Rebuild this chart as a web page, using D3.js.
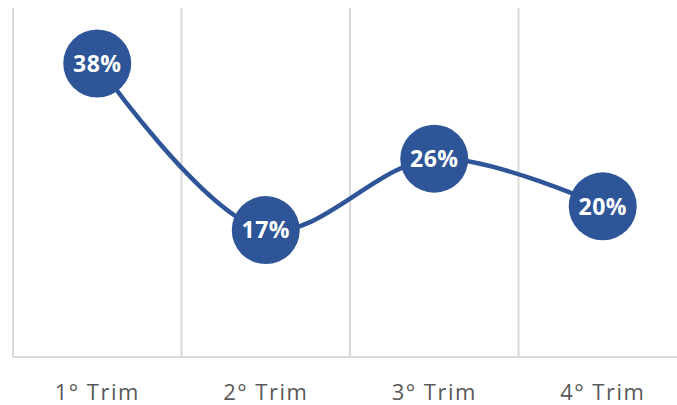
<!DOCTYPE html>
<html><head><meta charset="utf-8">
<script src="https://cdn.jsdelivr.net/npm/d3@7"></script>
<style>body{margin:0;background:#fff;overflow:hidden}</style>
</head><body>
<svg id="c" width="677" height="405"></svg>
<script>
const categories = ["1° Trim", "2° Trim", "3° Trim", "4° Trim"];
const values = [38, 17, 26, 20];
const valueLabels = ["38%", "17%", "26%", "20%"];

const svg = d3.select("#c");
const x = d3.scaleBand().domain(categories).range([13, 687]);
const y = d3.scaleLinear().domain([1, 45]).range([357, 8]);
const blue = "#2E5597";
const grid = "#D9D9D9";

// vertical gridlines at band boundaries
const bounds = categories.map(c => x(c)).concat([x.range()[1]]);
svg.append("g").selectAll("line").data(bounds).join("line")
  .attr("x1", d => d).attr("x2", d => d)
  .attr("y1", y(45)).attr("y2", y(1))
  .attr("stroke", grid).attr("stroke-width", 2);

// x axis line
svg.append("line").attr("x1", 13).attr("x2", 687)
  .attr("y1", y(1)).attr("y2", y(1))
  .attr("stroke", grid).attr("stroke-width", 2);

// axis labels
svg.append("g").selectAll("text").data(categories).join("text")
  .attr("x", d => x(d) + x.bandwidth() / 2).attr("y", 400)
  .attr("text-anchor", "middle")
  .attr("font-family", "'Open Sans', sans-serif").attr("font-size", 22)
  .attr("letter-spacing", 1.5)
  .attr("fill", "#595959").text(d => d);

const pts = categories.map((c, i) => [x(c) + x.bandwidth() / 2, y(values[i])]);
svg.append("path").datum(pts)
  .attr("d", d3.line().curve(d3.curveCatmullRom.alpha(0.5)))
  .attr("fill", "none").attr("stroke", blue).attr("stroke-width", 4.5);

const g = svg.append("g").selectAll("g").data(pts).join("g")
  .attr("transform", d => `translate(${d[0]},${d[1]})`);
g.append("circle").attr("r", 34).attr("fill", blue);
g.append("text").attr("text-anchor", "middle").attr("dy", "0.36em")
  .attr("font-family", "'Open Sans', sans-serif").attr("font-weight", "bold")
  .attr("font-size", 23).attr("letter-spacing", 0.5).attr("fill", "#fff")
  .text((d, i) => valueLabels[i]);
</script>
</body></html>
